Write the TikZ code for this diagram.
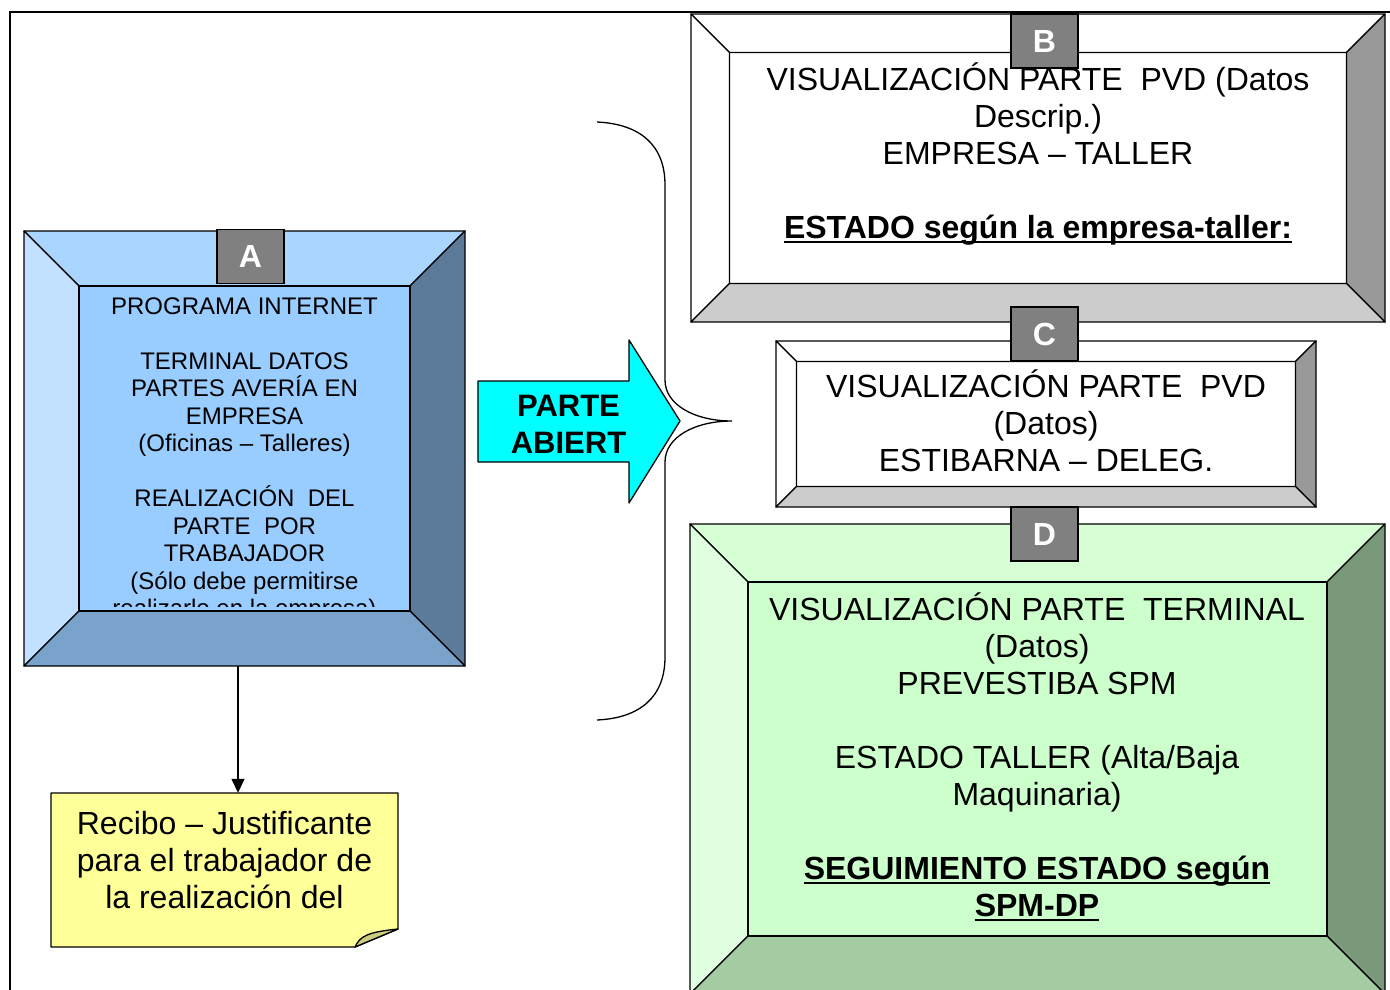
\documentclass[tikz,border=0pt]{standalone}
\usepackage{fontspec}
\setmainfont{Liberation Sans}
\usetikzlibrary{arrows.meta}
\definecolor{Ac}{HTML}{99CCFF}\definecolor{At}{HTML}{AAD5FF}\definecolor{Al}{HTML}{C2E0FF}\definecolor{Ar}{HTML}{5C7A99}\definecolor{Ab}{HTML}{7AA3CC}
\definecolor{Wc}{HTML}{FFFFFF}\definecolor{Wt}{HTML}{FFFFFF}\definecolor{Wl}{HTML}{FFFFFF}\definecolor{Wr}{HTML}{999999}\definecolor{Wb}{HTML}{CCCCCC}
\definecolor{Dc}{HTML}{CCFFCC}\definecolor{Dt}{HTML}{D6FFD6}\definecolor{Dl}{HTML}{E0FFE0}\definecolor{Dr}{HTML}{7A997A}\definecolor{Db}{HTML}{A3CCA3}
\definecolor{notefill}{HTML}{FFFF99}\definecolor{notefold}{HTML}{CDCD80}
\definecolor{labgray}{HTML}{808080}
\definecolor{arrowcyan}{HTML}{00FFFF}
\newcommand\bevelbox[6]{%
 \fill[#6c] (#1,#2) rectangle (#3,#4);
 \filldraw[fill=#6t,edge] (#1,#2) -- (#3,#2) -- ({#3-#5},{#2+#5}) -- ({#1+#5},{#2+#5}) -- cycle;
 \filldraw[fill=#6l,edge] (#1,#2) -- ({#1+#5},{#2+#5}) -- ({#1+#5},{#4-#5}) -- (#1,#4) -- cycle;
 \filldraw[fill=#6r,edge] (#3,#2) -- (#3,#4) -- ({#3-#5},{#4-#5}) -- ({#3-#5},{#2+#5}) -- cycle;
 \filldraw[fill=#6b,edge] (#1,#4) -- (#3,#4) -- ({#3-#5},{#4-#5}) -- ({#1+#5},{#4-#5}) -- cycle;
 \draw[edge] ({#1+#5},{#2+#5}) rectangle ({#3-#5},{#4-#5});
}
\newcommand\myul[1]{\setbox0=\hbox{#1}\rlap{\rule[-4.5pt]{\wd0}{2.6pt}}\box0}
\begin{document}
\begin{tikzpicture}[x=1pt,y=-1pt,
  edge/.style={draw=black,line width=1.3pt,line join=round},
  labelbox/.style={draw=black,line width=1.3pt,fill=labgray,minimum width=67pt,minimum height=54pt,inner sep=0pt,text=white,font=\bfseries\fontsize{32}{37}\selectfont},
  txt/.style={align=center,inner sep=0pt,anchor=north,font=\fontsize{32}{37}\selectfont},
  txtA/.style={align=center,inner sep=0pt,anchor=north,font=\fontsize{24}{27.5}\selectfont},
  ghost/.style={draw=none,inner sep=0pt}]
\useasboundingbox (0,0) rectangle (1390,989);
\clip (0,0) rectangle (1390,989);
\fill[white] (0,0) rectangle (1390,989);
% outer frame
\draw[line width=1.3pt] (10,1000) -- (10,12) -- (1400,12);

% Box A
\bevelbox{24}{231}{465}{666}{55}{A}
\begin{scope}
\clip (79,286) rectangle (410,606);
\node[txtA] (tA) at (244.5,290) {\rule{0pt}{1em}PROGRAMA INTERNET\\[27.5pt]TERMINAL DATOS\\PARTES AVERÍA EN\\EMPRESA\\(Oficinas – Talleres)\\[27.5pt]REALIZACIÓN\ \ DEL\\PARTE\ \ POR\\TRABAJADOR\\(Sólo debe permitirse\\realizarlo en la empresa)};
\end{scope}
\node[labelbox] (labA) at (250.5,256.5) {\raisebox{-3pt}{A}};
\node[ghost,minimum width=441pt,minimum height=435pt] (A) at (244.5,448.5) {};

% Note
\filldraw[fill=notefill,edge] (51,793) -- (398,793) -- (398,929) -- (355,947) -- (51,947) -- cycle;
\filldraw[fill=notefold,edge] (355,947) .. controls (360,936) and (368,932) .. (398,929) -- cycle;
\begin{scope}
\clip (51,793) rectangle (398,925);
\node[txt] (tRec) at (224.5,802) {\rule{0pt}{1em}Recibo – Justificante\\para el trabajador de\\la realización del};
\end{scope}
\node[ghost,minimum width=347pt,minimum height=154pt] (rec) at (224.5,870) {};
\coordinate (ax) at (238,0);
\draw[line width=1.3pt,-{Triangle[length=14pt,width=13pt]}] (A.south -| ax) -- (rec.north -| ax);

% Big arrow
\filldraw[fill=arrowcyan,edge] (478,381) -- (629,381) -- (629,340) -- (680,421) -- (629,503) -- (629,462) -- (478,462) -- cycle;
\node[align=center,inner sep=0pt,anchor=north,font=\bfseries\fontsize{31}{37}\selectfont] (tArr) at (568.5,385) {\rule{0pt}{1em}PARTE\\ABIERT};

% Brace
\draw[line width=1.3pt] (597,122) .. controls (640,124) and (665,145) .. (665,185) -- (665,380)
  .. controls (665,405) and (695,421) .. (732,421)
  .. controls (695,421) and (665,437) .. (665,462) -- (665,657)
  .. controls (665,697) and (640,718) .. (597,720);

% Box B
\bevelbox{691}{14}{1385}{322}{38.5}{W}
\node[txt] (tB) at (1038,58.5) {\rule{0pt}{1em}VISUALIZACIÓN PARTE\ \ PVD (Datos\\Descrip.)\\EMPRESA – TALLER\\[37pt]\textbf{\myul{ESTADO según la empresa-taller:}}};
\node[labelbox] (labB) at (1044.5,41) {\raisebox{-3pt}{B}};

% Box C
\bevelbox{776}{341}{1316}{507}{20.5}{W}
\node[txt] (tC) at (1046,365.5) {\rule{0pt}{1em}VISUALIZACIÓN PARTE\ \ PVD\\(Datos)\\ESTIBARNA – DELEG.};

% Box D
\bevelbox{690}{524}{1385}{994}{58}{D}
\node[txt] (tD) at (1037,588.5) {\rule{0pt}{1em}VISUALIZACIÓN PARTE\ \ TERMINAL\\(Datos)\\PREVESTIBA SPM\\[37pt]ESTADO TALLER (Alta/Baja\\Maquinaria)\\[37pt]\textbf{\myul{SEGUIMIENTO ESTADO según}}\\\textbf{\myul{SPM-DP}}};

\node[labelbox] (labC) at (1044.5,334) {\raisebox{-3pt}{C}};
\node[labelbox] (labD) at (1044.5,534) {\raisebox{-3pt}{D}};
\end{tikzpicture}
\end{document}
